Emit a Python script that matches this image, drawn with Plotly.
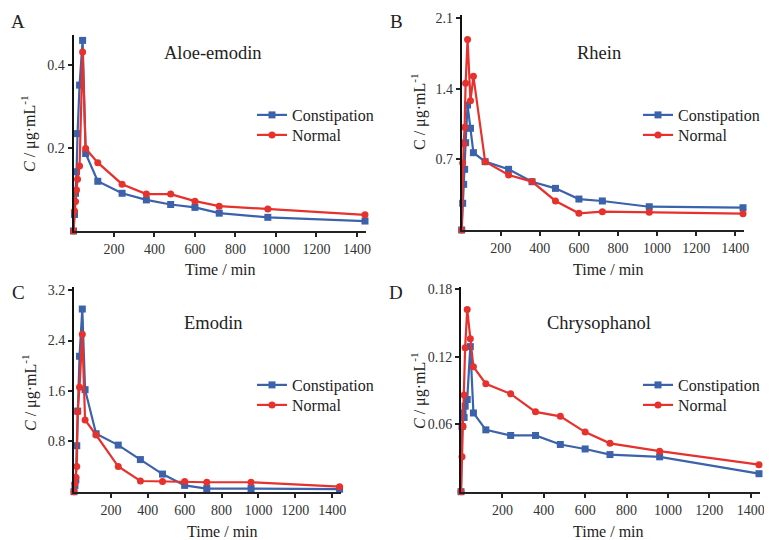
import plotly.graph_objects as go

# sampling times (min)
time = [0, 5, 10, 15, 20, 30, 45, 60, 120, 240, 360, 480, 600, 720, 960, 1440]

# A  Aloe-emodin
aloe_const = [0, 0.040, 0.091, 0.143, 0.235, 0.352, 0.460, 0.187, 0.120, 0.091, 0.075, 0.064, 0.057, 0.043, 0.033, 0.024]
aloe_norm = [0, 0.048, 0.071, 0.099, 0.125, 0.157, 0.432, 0.199, 0.165, 0.113, 0.089, 0.089, 0.072, 0.060, 0.053, 0.039]
# B  Rhein
rhein_const = [0, 0.265, 0.453, 0.602, 0.866, 1.240, 1.009, 0.767, 0.678, 0.602, 0.479, 0.413, 0.307, 0.288, 0.231, 0.221]
rhein_norm = [0, 0.665, 0.853, 1.020, 1.455, 1.890, 1.283, 1.525, 0.678, 0.546, 0.480, 0.288, 0.166, 0.182, 0.176, 0.162]
# C  Emodin
emodin_const = [0, 0.10, 0.19, 0.73, 1.28, 2.15, 2.90, 1.62, 0.92, 0.74, 0.51, 0.28, 0.10, 0.05, 0.05, 0.04]
emodin_norm = [0, 0.13, 0.23, 0.40, 1.27, 1.66, 2.50, 1.14, 0.90, 0.40, 0.17, 0.16, 0.16, 0.15, 0.15, 0.08]
# D  Chrysophanol
chryso_const = [0, 0.058, 0.070, 0.066, 0.076, 0.082, 0.129, 0.070, 0.055, 0.050, 0.050, 0.042, 0.038, 0.033, 0.031, 0.016]
chryso_norm = [0, 0.031, 0.058, 0.086, 0.128, 0.162, 0.136, 0.111, 0.096, 0.087, 0.071, 0.067, 0.053, 0.043, 0.036, 0.024]

x_ticks = [200, 400, 600, 800, 1000, 1200, 1400]
panels = [
    ("A", "Aloe-emodin", aloe_const, aloe_norm, [0.2, 0.4], ["0.2", "0.4"], 0.473, True),
    ("B", "Rhein", rhein_const, rhein_norm, [0.7, 1.4, 2.1], ["0.7", "1.4", "2.1"], 2.13, False),
    ("C", "Emodin", emodin_const, emodin_norm, [0.8, 1.6, 2.4, 3.2], ["0.8", "1.6", "2.4", "3.2"], 3.25, True),
    ("D", "Chrysophanol", chryso_const, chryso_norm, [0.06, 0.12, 0.18], ["0.06", "0.12", "0.18"], 0.182, True),
]

# page body has an 8px margin, so the figure is drawn 8px smaller and shifted
OFF = 8
W, H = 772 - OFF, 540 - OFF


def px(p):
    return (p - OFF) / W


def py(p):
    return 1 - (p - OFF) / H


# screen pixel boxes: left, right, top, bottom of each plot area
boxes = [(73.5, 366, 35, 231), (461.7, 744, 15.3, 230), (74, 340.5, 287, 491.7), (461, 760, 287, 491.7)]
# screen positions of texts
title_pos = [(213, 53), (599, 53), (213, 323), (599, 323)]
letter_pos = [(18, 22), (396, 22), (18, 292), (396, 292)]
xtitle_pos = [(220, 270), (608, 270), (222, 531), (608, 531)]
ytitle_pos = [(29, 134), (418, 112), (29, 393), (418, 391)]
legend_pos = [(252, 98), (638, 98), (252, 368), (638, 368)]

BLUE = "#3b62aa"
RED = "#e6312d"
FONT = "Liberation Serif"

fig = go.Figure()
annotations = []

for i, (letter, name, const, norm, yt, ytt, ymax, italic) in enumerate(panels):
    n = "" if i == 0 else str(i + 1)
    l, r, t, b = boxes[i]
    leg1 = "legend" + n
    leg2 = "legend" + str(i + 5)
    fig.add_trace(go.Scatter(
        x=time, y=const, name="Constipation", mode="lines+markers",
        line=dict(color=BLUE, width=2.2), marker=dict(symbol="square", size=7, color=BLUE),
        xaxis="x" + n, yaxis="y" + n, legend=leg1, cliponaxis=False))
    fig.add_trace(go.Scatter(
        x=time, y=norm, name="Normal", mode="lines+markers",
        line=dict(color=RED, width=2.2), marker=dict(symbol="circle", size=7, color=RED),
        xaxis="x" + n, yaxis="y" + n, legend=leg2, cliponaxis=False))

    lx, ly = legend_pos[i]
    legfont = dict(family=FONT, size=16, color="#222")
    fig.update_layout(**{
        "xaxis" + n: dict(domain=[px(l), px(r)], anchor="y" + n, range=[0, 1445],
                          tickvals=x_ticks, ticks="outside", ticklen=4, tickwidth=1.5,
                          tickcolor="#222", showline=True, linecolor="#222", linewidth=2,
                          showgrid=False, zeroline=False, automargin=False,
                          tickfont=dict(family=FONT, size=14, color="#333")),
        "yaxis" + n: dict(domain=[py(b), py(t)], anchor="x" + n, range=[0, ymax],
                          tickvals=yt, ticktext=ytt, ticks="outside", ticklen=4, tickwidth=1.5,
                          tickcolor="#222", showline=True, linecolor="#111", linewidth=2,
                          showgrid=False, zeroline=False, automargin=False,
                          tickfont=dict(family=FONT, size=14, color="#333")),
        leg1: dict(x=px(lx), y=py(ly), xanchor="left", yanchor="top",
                   bgcolor="rgba(0,0,0,0)", font=legfont),
        leg2: dict(x=px(lx), y=py(ly + 20), xanchor="left", yanchor="top",
                   bgcolor="rgba(0,0,0,0)", font=legfont),
    })

    annotations.append(dict(text=name, x=px(title_pos[i][0]), y=py(title_pos[i][1]),
                            font=dict(family=FONT, size=18.5, color="#222")))
    annotations.append(dict(text=letter, x=px(letter_pos[i][0]), y=py(letter_pos[i][1]),
                            font=dict(family=FONT, size=19, color="#222")))
    annotations.append(dict(text="Time / min", x=px(xtitle_pos[i][0]), y=py(xtitle_pos[i][1]),
                            font=dict(family=FONT, size=16, color="#222")))
    ytitle = ("<i>C</i>" if italic else "C") + " / μg·mL<sup>-1</sup>"
    annotations.append(dict(text=ytitle, x=px(ytitle_pos[i][0]), y=py(ytitle_pos[i][1]),
                            textangle=-90, font=dict(family=FONT, size=16, color="#222")))

for a in annotations:
    a.update(xref="paper", yref="paper", xanchor="center", yanchor="middle", showarrow=False)

fig.update_layout(width=W, height=H, margin=dict(l=0, r=0, t=0, b=0),
                  plot_bgcolor="white", paper_bgcolor="white",
                  annotations=annotations, showlegend=True)

fig.write_html("out.html")
